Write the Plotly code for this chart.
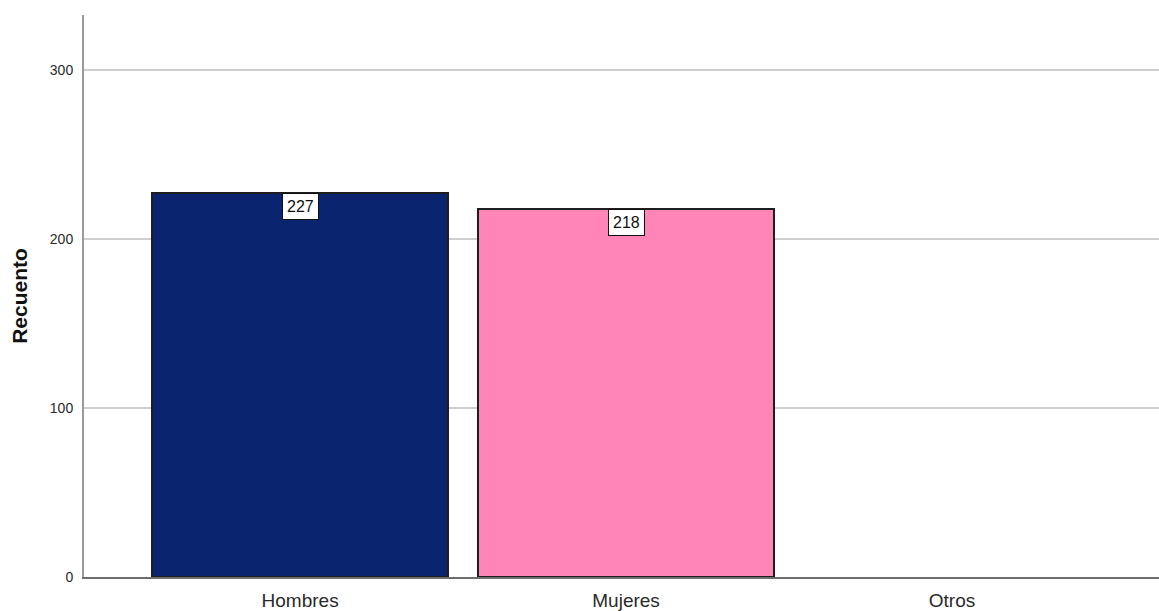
import plotly.graph_objects as go

categories = ["Hombres", "Mujeres", "Otros"]
counts = [227, 218, 0]
colors = ["#0B2470", "#FF85B6", "#FFFFFF"]
y_ticks = [0, 100, 200, 300]

fig = go.Figure()
fig.add_trace(go.Bar(
    x=categories, y=counts, width=0.91,
    marker=dict(color=colors,
                line=dict(color="#1e1e1e", width=[2 if v > 0 else 0 for v in counts])),
    showlegend=False, hoverinfo="skip",
))

for c, v in zip(categories, counts):
    if v > 0:
        fig.add_annotation(
            x=c, y=v, text=str(v), showarrow=False, yanchor="top",
            font=dict(family="Liberation Sans, Arial", size=16, color="#111111"),
            bgcolor="white", bordercolor="#111111", borderwidth=1, borderpad=4,
        )

fig.update_layout(
    width=1159, height=611,
    margin=dict(l=84, r=0, t=15, b=34),
    plot_bgcolor="white", paper_bgcolor="white",
    font=dict(family="Liberation Sans, Arial", color="#222222"),
    bargap=0,
)
fig.update_xaxes(
    range=[-0.663, 2.635], showline=True, linecolor="#6e6e6e", linewidth=1.5,
    showgrid=False, ticks="", tickfont=dict(size=19, color="#2a2a2a"),
    ticklabelstandoff=5,
)
fig.update_yaxes(
    range=[0, 332.5], tickvals=y_ticks, showline=True, linecolor="#9a9a9a", linewidth=2,
    showgrid=True, gridcolor="#cfcfcf", gridwidth=1.5, zeroline=False, ticks="",
    tickfont=dict(size=14, color="#2a2a2a"), ticklabelstandoff=6,
    title=dict(text="<b>Recuento</b>", font=dict(size=21, color="#111111"), standoff=16),
)

fig.write_html("out.html")
